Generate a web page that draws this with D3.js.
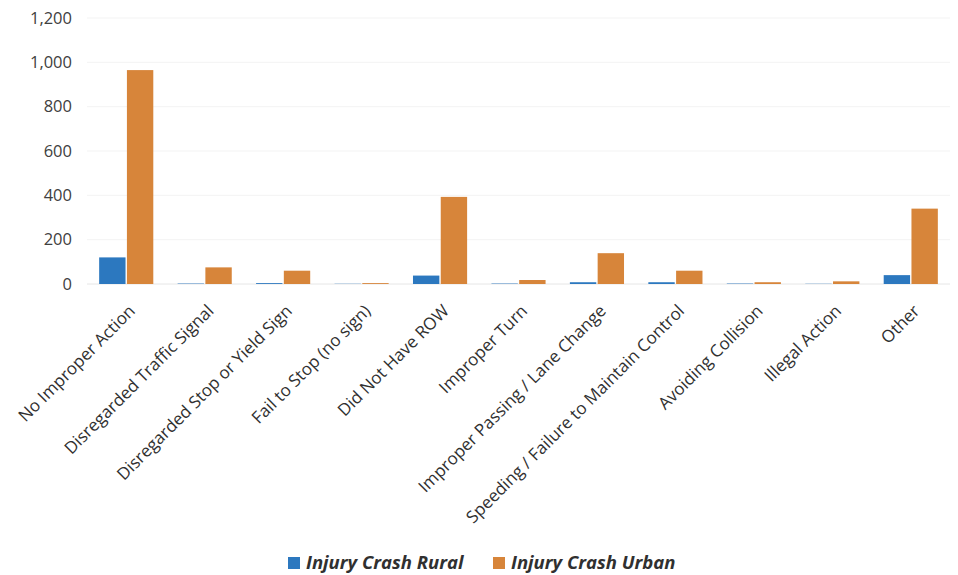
<!DOCTYPE html>
<html>
<head>
<meta charset="utf-8">
<script src="https://cdn.jsdelivr.net/npm/d3@7"></script>
<style>
  html, body { margin: 0; padding: 0; background: #fff; }
  svg { display: block; font-family: "Open Sans", Lato, "Liberation Sans", sans-serif; }
</style>
</head>
<body>
<svg id="chart" width="958" height="575"></svg>
<script>
// Contributing circumstances for injury crashes, rural vs urban
const categories = [
  "No Improper Action",
  "Disregarded Traffic Signal",
  "Disregarded Stop or Yield Sign",
  "Fail to Stop (no sign)",
  "Did Not Have ROW",
  "Improper Turn",
  "Improper Passing / Lane Change",
  "Speeding / Failure to Maintain Control",
  "Avoiding Collision",
  "Illegal Action",
  "Other"
];
const seriesNames = ["Injury Crash Rural", "Injury Crash Urban"];
const ruralValues = [120, 2, 4, 1, 38, 2, 8, 8, 2, 1, 40];
const urbanValues = [965, 75, 60, 4, 393, 18, 139, 60, 8, 12, 340];
const yTicks = [0, 200, 400, 600, 800, 1000, 1200];
const seriesColors = ["#2c78bf", "#d7853a"];

const fontFamily = "'Open Sans', Lato, 'Liberation Sans', sans-serif";
const svg = d3.select("#chart");
const margin = { left: 87, right: 8, top: 18 };
const plotRight = 950;
const plotBottom = 284;

const x0 = d3.scaleBand()
  .domain(categories)
  .range([margin.left, plotRight])
  .paddingInner(0.31)
  .paddingOuter(0.155);

const x1 = d3.scaleBand()
  .domain(seriesNames)
  .range([0, x0.bandwidth()])
  .padding(0.05)
  .paddingOuter(0);

const y = d3.scaleLinear()
  .domain([0, 1200])
  .range([plotBottom, margin.top]);

// faint horizontal gridlines
svg.append("g")
  .selectAll("line")
  .data(yTicks)
  .join("line")
  .attr("x1", margin.left)
  .attr("x2", plotRight)
  .attr("y1", d => y(d))
  .attr("y2", d => y(d))
  .attr("stroke", d => d === 0 ? "#e6e6e6" : "#f3f3f3")
  .attr("stroke-width", 1);

// y axis labels
const yAxis = d3.axisLeft(y)
  .tickValues(yTicks)
  .tickFormat(d3.format(","))
  .tickSize(0)
  .tickPadding(0);

const yg = svg.append("g")
  .attr("transform", `translate(72,0)`)
  .call(yAxis)
  .attr("font-family", fontFamily);
yg.select(".domain").remove();
yg.selectAll("text")
  .attr("fill", "#404040")
  .style("font-size", "16.5px");

// grouped bars
const rows = categories.map((c, i) => ({
  category: c,
  values: [ruralValues[i], urbanValues[i]]
}));

const groups = svg.append("g")
  .selectAll("g")
  .data(rows)
  .join("g")
  .attr("transform", d => `translate(${x0(d.category)},0)`);

groups.selectAll("rect")
  .data(d => d.values.map((v, k) => ({ key: seriesNames[k], value: v, k })))
  .join("rect")
  .attr("x", d => x1(d.key))
  .attr("width", x1.bandwidth())
  .attr("y", d => y(d.value))
  .attr("height", d => plotBottom - y(d.value))
  .attr("fill", d => seriesColors[d.k]);

// rotated category labels
const xAxis = d3.axisBottom(x0).tickSize(0).tickPadding(0);
const xg = svg.append("g")
  .attr("transform", `translate(0,${plotBottom})`)
  .call(xAxis)
  .attr("font-family", fontFamily);
xg.select(".domain").remove();
xg.selectAll("text")
  .attr("fill", "#303030")
  .style("font-size", "17px")
  .attr("text-anchor", "end")
  .attr("dy", "0")
  .attr("transform", "translate(10,28) rotate(-45)");

// legend
const legend = svg.append("g").attr("transform", "translate(288,563)");
const legendX = [0, 205];
seriesNames.forEach((name, i) => {
  const g = legend.append("g").attr("transform", `translate(${legendX[i]},0)`);
  g.append("rect")
    .attr("x", 0).attr("y", -6)
    .attr("width", 12).attr("height", 12)
    .attr("fill", seriesColors[i]);
  g.append("text")
    .attr("x", 18).attr("y", 0)
    .attr("dy", "0.35em")
    .attr("fill", "#303030")
    .style("font-size", "18.5px")
    .style("font-weight", "bold")
    .style("font-style", "italic")
    .text(name);
});
</script>
</body>
</html>
